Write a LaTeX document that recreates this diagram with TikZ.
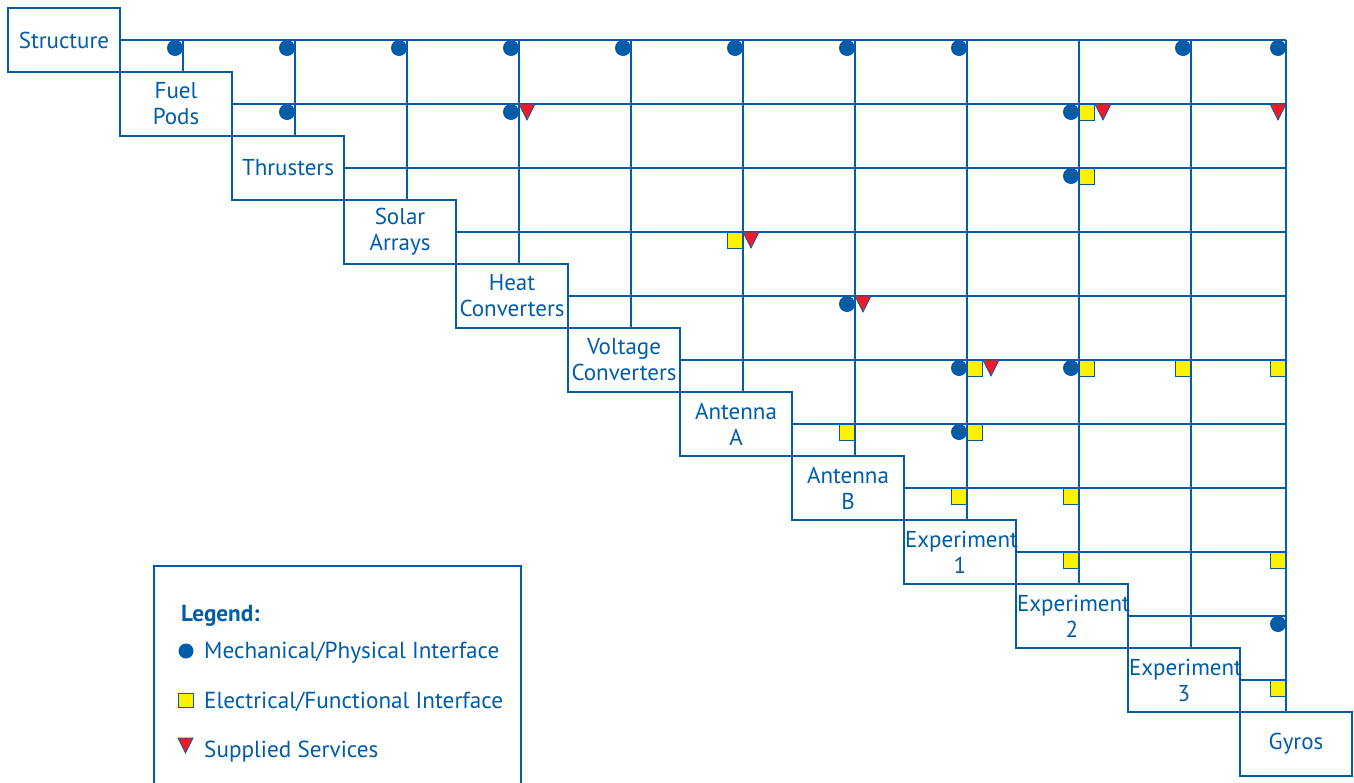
\documentclass[tikz,border=0pt]{standalone}
\usepackage{fontspec}
\setmainfont{PT Sans}
\usepackage{tikz}
\usetikzlibrary{positioning}
\definecolor{nblue}{RGB}{0,92,169}
\definecolor{nyellow}{RGB}{255,241,0}
\definecolor{nred}{RGB}{237,28,36}

\begin{document}
\begin{tikzpicture}[x=1pt, y=-1pt,
  box/.style={rectangle, draw=nblue, line width=1.3pt, minimum width=112pt,
    minimum height=64pt, inner sep=0pt, text width=110pt, align=center,
    text=nblue, font=\fontsize{23}{26}\selectfont},
  link/.style={draw=nblue, line width=1.3pt},
  mech/.style={fill=nblue},
  elec/.style={fill=nyellow, draw=nblue, line width=0.8pt},
  serv/.style={fill=nred, draw=nblue, line width=0.8pt},
  lbl/.style={text=nblue, anchor=base west, inner sep=0pt,
    font=\fontsize{23.2}{26}\selectfont},
]

\useasboundingbox (0,0) rectangle (1354,782);

% subsystems on the diagonal
\foreach \i/\name in {0/Structure, 1/{Fuel\\Pods}, 2/Thrusters,
    3/{Solar\\Arrays}, 4/{Heat\\Converters}, 5/{Voltage\\Converters},
    6/{Antenna\\A}, 7/{Antenna\\B}, 8/{Experiment\\1}, 9/{Experiment\\2},
    10/{Experiment\\3}, 11/Gyros}
  \node[box] (b\i) at ({64+112*\i},{40+64*\i}) {\name};

% grid
\foreach \j in {1,...,10}
  \coordinate (c\j) at ({71+112*\j},40);
\coordinate (c11) at (1286,40);
\foreach \i in {0,...,10}
  \coordinate (r\i) at (1286,{40+64*\i});

\foreach \i in {0,...,10}
  \draw[link] (b\i.east) -- (r\i);
\foreach \j in {1,...,11}
  \draw[link] (c\j) -- (c\j |- b\j.north);

% interfaces
\foreach \i/\j in {0/1, 0/2, 0/3, 0/4, 0/5, 0/6, 0/7, 0/8, 0/10, 0/11,
    1/2, 1/4, 1/9, 2/9, 4/7, 5/8, 5/9, 6/8, 9/11} {
  \path (c\j |- r\i) coordinate (p);
  \fill[mech] ([shift={(-8,8)}]p) circle (8pt);
}
\foreach \i/\j/\s in {1/9/1, 2/9/1, 5/8/1, 5/9/1, 6/8/1, 3/6/0, 5/10/0,
    5/11/0, 6/7/0, 7/8/0, 7/9/0, 8/9/0, 8/11/0, 10/11/0} {
  \path (c\j |- r\i) coordinate (p);
  \draw[elec] ([shift={({-16+16*\s},0)}]p) rectangle +(15,16);
}
\foreach \i/\j/\s in {1/4/1, 3/6/1, 4/7/1, 1/9/2, 5/8/2, 1/11/0} {
  \path (c\j |- r\i) coordinate (p);
  \draw[serv] ([shift={({-16+16*\s},0)}]p) -- ++(16,0) -- ++(-8,16) -- cycle;
}

% legend
\draw[nblue, line width=2.5pt] (154,800) -- (154,566) -- (521,566) -- (521,800);
\node[lbl, font=\fontsize{23.2}{26}\selectfont\bfseries] (leg) at (181,621) {Legend:};
\fill[mech] (186,651) circle (7.5pt);
\node[lbl] (l1) at (204,658) {Mechanical/Physical Interface};
\draw[elec] (178,693) rectangle (193,707);
\node[lbl] (l2) at (204,708) {Electrical/Functional Interface};
\draw[serv] (178,738) -- (193,738) -- (185.5,753) -- cycle;
\node[lbl] (l3) at (204,757) {Supplied Services};

\end{tikzpicture}
\end{document}
